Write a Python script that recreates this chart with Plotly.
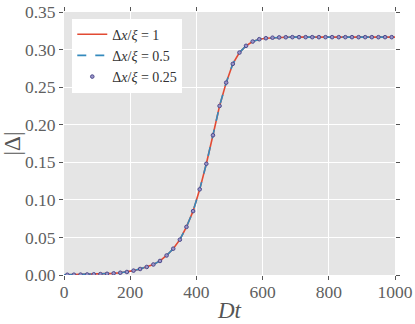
import plotly.graph_objects as go

# Dt samples (markers sit at 10, 30, ..., 990; lines run 0..1000)
dt = [0, 10, 30, 50, 70, 90, 110, 130, 150, 170, 190, 210, 230, 250, 270, 290,
      310, 330, 350, 370, 390, 410, 430, 450, 470, 490, 510, 530, 550, 570,
      590, 610, 630, 650, 670, 690, 710, 730, 750, 770, 790, 810, 830, 850,
      870, 890, 910, 930, 950, 970, 990, 1000]

# |Delta| (the three resolutions overlap)
delta = [0.0002, 0.0003, 0.0004, 0.0005, 0.0007, 0.0009, 0.0012, 0.0016, 0.0022,
         0.0030, 0.0040, 0.0058, 0.0080, 0.0107, 0.0140, 0.0187, 0.0260, 0.0350,
         0.0470, 0.0640, 0.0850, 0.1140, 0.1480, 0.1860, 0.2250, 0.2560, 0.2810,
         0.2960, 0.3050, 0.3107, 0.3138, 0.3151, 0.3158, 0.3162, 0.3164, 0.3165,
         0.3165, 0.3165, 0.3165, 0.3165, 0.3165, 0.3165, 0.3165, 0.3165, 0.3165,
         0.3165, 0.3165, 0.3165, 0.3165, 0.3165, 0.3165, 0.3165]

x_ticks = [0, 200, 400, 600, 800, 1000]
y_ticks = [0.00, 0.05, 0.10, 0.15, 0.20, 0.25, 0.30, 0.35]

FONT = "'Liberation Serif', 'DejaVu Serif', serif"

fig = go.Figure()
fig.add_trace(go.Scatter(
    x=dt, y=delta, mode="lines", name="Δ<i>x</i>/<i>ξ</i> = 1",
    line=dict(color="#E24A33", width=1.6)
))
fig.add_trace(go.Scatter(
    x=dt, y=delta, mode="lines", name="Δ<i>x</i>/<i>ξ</i> = 0.5",
    line=dict(color="#348ABD", width=1.6, dash="dash")
))
fig.add_trace(go.Scatter(
    x=dt[1:-1], y=delta[1:-1], mode="markers", name="Δ<i>x</i>/<i>ξ</i> = 0.25",
    marker=dict(color="#9a94c8", size=3.6, symbol="circle",
                line=dict(color="#4d4b8c", width=1))
))

axis_common = dict(
    showgrid=True, gridcolor="white", gridwidth=1, zeroline=False,
    showline=False, ticks="outside", ticklen=4, tickcolor="#555555",
    mirror="ticks", automargin=False,
    tickfont=dict(family=FONT, size=17.5, color="#606060"),
)

fig.update_layout(
    width=415, height=324,
    margin=dict(l=64, r=20, t=12, b=49),
    plot_bgcolor="#E5E5E5", paper_bgcolor="white",
    font=dict(family=FONT, color="#555555"),
    xaxis=dict(range=[0, 1000], tickvals=x_ticks, ticktext=[str(v) for v in x_ticks],
               ticklabelstandoff=-3,
               title=dict(text="<i>Dt</i>", font=dict(family=FONT, size=23, color="#555555"),
                          standoff=0),
               **axis_common),
    yaxis=dict(range=[0, 0.35], tickvals=y_ticks, ticktext=[f"{v:.2f}" for v in y_ticks],
               title=dict(text="|Δ|", font=dict(family=FONT, size=23, color="#555555"),
                          standoff=4),
               **axis_common),
    legend=dict(x=0.025, y=0.975, xanchor="left", yanchor="top",
                bgcolor="white", borderwidth=0,
                font=dict(family=FONT, size=14, color="#333333"),
                tracegroupgap=0, itemwidth=30),
    showlegend=True,
)

# drop the default 8px body margin so the figure sits at the window's corner
fig.write_html("out.html", config={"displayModeBar": False},
               post_script="document.body.style.margin = '0';")
